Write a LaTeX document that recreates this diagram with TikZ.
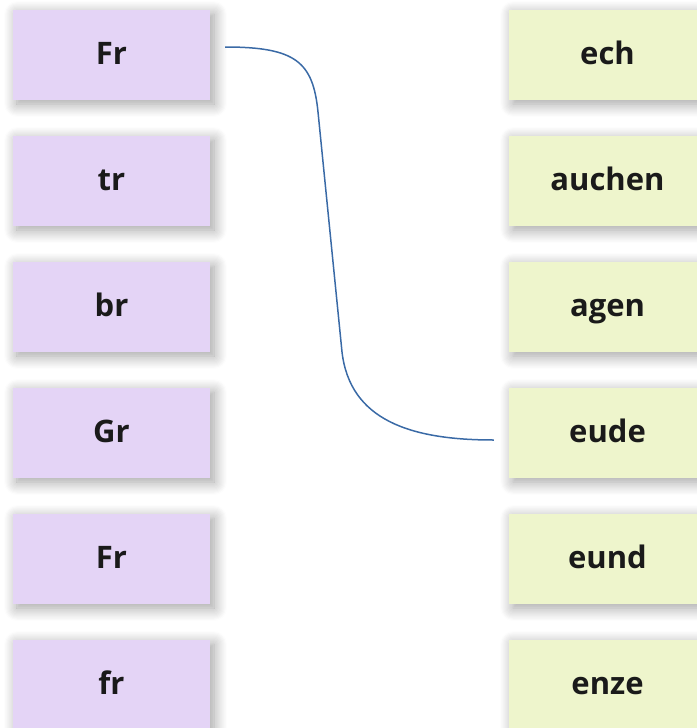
\documentclass[tikz,border=0pt]{standalone}
\usepackage{fontspec}
\setmainfont{Open Sans}
\usetikzlibrary{shadows.blur,calc}
\definecolor{lilac}{RGB}{228,212,246}
\definecolor{lime}{RGB}{238,245,204}
\definecolor{ink}{RGB}{26,26,26}
\definecolor{wire}{RGB}{58,106,166}
\tikzset{
  card/.style={minimum width=197pt, minimum height=90pt, inner sep=0pt,
    text height=24pt, text depth=6pt,
    font=\fontsize{31}{36}\selectfont\bfseries, text=ink,
    blur shadow={shadow xshift=4pt, shadow yshift=-4pt, shadow blur radius=13pt, shadow blur steps=12, shadow opacity=38}},
  leftcard/.style={card, fill=lilac},
  rightcard/.style={card, fill=lime},
  link/.style={draw=wire, line width=1.5pt}
}
\begin{document}
\begin{tikzpicture}[x=1pt,y=-1pt]
\useasboundingbox (0,0) rectangle (696,728);
\foreach \t [count=\i] in {Fr,tr,br,Gr,Fr,fr}{
  \node[leftcard] (l\i) at (111.5,{55+126*(\i-1)}) {\t};
}
\foreach \t [count=\i] in {ech,auchen,agen,eude,eund,enze}{
  \node[rightcard] (r\i) at (607.5,{55+126*(\i-1)}) {\t};
}
\coordinate (s) at ($(l1.east)+(15,-8)$);
\coordinate (e) at ($(r4.west)+(-15,7)$);
\draw[link] (s) .. controls (296,47) and (313,62) .. (318,112)
  -- (342,352) .. controls (350,420) and (410,440) .. (e);
\end{tikzpicture}
\end{document}
